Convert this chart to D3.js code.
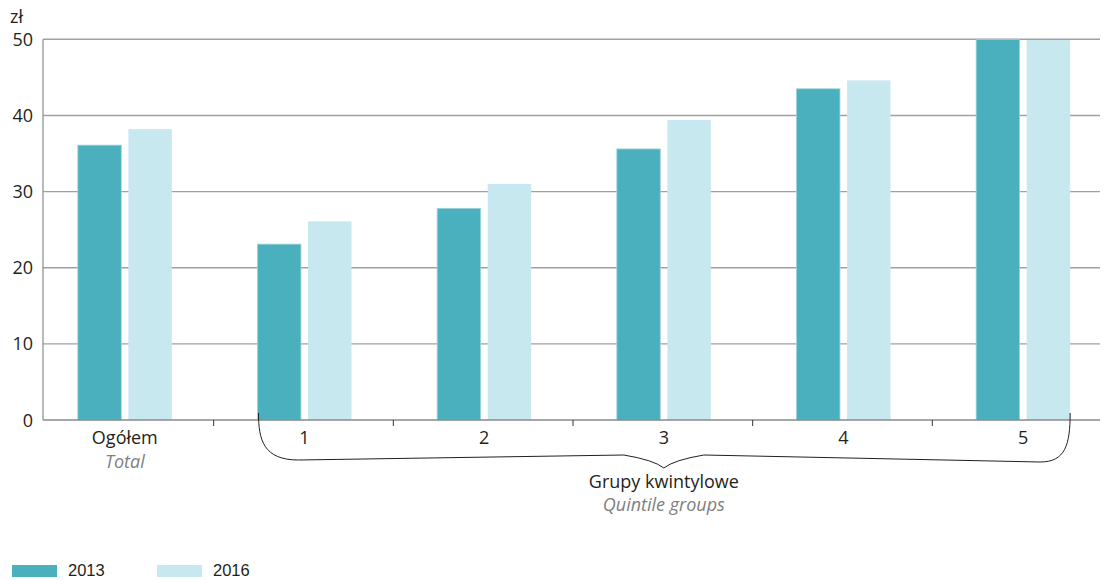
<!DOCTYPE html>
<html><head><meta charset="utf-8">
<script src="https://cdn.jsdelivr.net/npm/d3@7"></script>
<style>body{margin:0;background:#fff}svg{display:block}</style>
</head><body>
<svg id="c" width="1106" height="580"></svg>
<script>
const categories = ["Ogółem", "1", "2", "3", "4", "5"];
const series = ["2013", "2016"];
const values2013 = [36.1, 23.1, 27.8, 35.6, 43.5, 50.0];
const values2016 = [38.2, 26.1, 31.0, 39.4, 44.6, 49.9];
const yTicks = [0, 10, 20, 30, 40, 50];
const colors = ["#4bb0bd", "#c8e8ef"];

const svg = d3.select("#c");
const font = "'Open Sans', 'Noto Sans', sans-serif";
const x = d3.scaleBand().domain(categories).range([35, 1113]).paddingInner(0).paddingOuter(0);
const y = d3.scaleLinear().domain([0, 50]).range([420, 39.3]);
const xs = d3.scaleBand().domain(series).range([0, 94]).paddingInner(0.14);

// gridlines
svg.append("g").selectAll("line").data(yTicks.filter(d => d > 0)).join("line")
  .attr("x1", 43).attr("x2", 1100).attr("y1", d => y(d)).attr("y2", d => y(d))
  .attr("stroke", "#a0a0a0").attr("stroke-width", 1.4);

// bars
const data = categories.map((c, i) => ({c, v: [values2013[i], values2016[i]]}));
const g = svg.append("g").selectAll("g").data(data).join("g")
  .attr("transform", d => `translate(${x(d.c) + x.bandwidth()/2 - 47},0)`);
g.selectAll("rect").data(d => d.v.map((v, j) => ({s: series[j], v, j}))).join("rect")
  .attr("x", d => xs(d.s)).attr("width", xs.bandwidth())
  .attr("y", d => y(d.v)).attr("height", d => y(0) - y(d.v))
  .attr("fill", d => colors[d.j])
  .attr("stroke", d => d.j === 0 ? "#9fd3da" : "none").attr("stroke-width", 0.8);

// axes lines
svg.append("line").attr("x1", 43).attr("x2", 43).attr("y1", y(50)).attr("y2", y(0))
  .attr("stroke", "#8a8a8a").attr("stroke-width", 1.2);
svg.append("line").attr("x1", 43).attr("x2", 1100).attr("y1", y(0)).attr("y2", y(0))
  .attr("stroke", "#8a8a8a").attr("stroke-width", 1.4);

// x ticks between bands
svg.append("g").selectAll("line").data(categories.slice(1)).join("line")
  .attr("x1", d => x(d) - 1).attr("x2", d => x(d) - 1).attr("y1", y(0)).attr("y2", y(0) + 6)
  .attr("stroke", "#333").attr("stroke-width", 1);

// y labels
svg.append("g").selectAll("text").data(yTicks).join("text")
  .attr("x", 33).attr("y", d => y(d) + 6.5).attr("text-anchor", "end")
  .attr("font-family", font).attr("font-size", 18).attr("fill", "#231f20").text(d => d);
svg.append("text").attr("x", 10).attr("y", 23).attr("font-family", font).attr("font-size", 18)
  .attr("fill", "#231f20").text("zł");

// x labels
svg.append("g").selectAll("text").data(categories).join("text")
  .attr("x", d => x(d) + x.bandwidth()/2).attr("y", 444).attr("text-anchor", "middle")
  .attr("font-family", font).attr("font-size", 18).attr("fill", "#231f20").text(d => d);
svg.append("text").attr("x", x("Ogółem") + x.bandwidth()/2).attr("y", 468).attr("text-anchor", "middle")
  .attr("font-family", font).attr("font-style", "italic").attr("font-size", 18).attr("fill", "#808080").text("Total");

// brace
const bl = x("1") + x.bandwidth()/2 - 46, br = x("5") + x.bandwidth()/2 + 47;
const mid = (x("3") + x.bandwidth()/2);
const bp = d3.path();
bp.moveTo(bl, 413);
bp.bezierCurveTo(bl, 440, bl + 5, 460, bl + 40, 460);
bp.lineTo(mid - 40, 455);
bp.quadraticCurveTo(mid - 10, 460, mid, 468);
bp.quadraticCurveTo(mid + 10, 460, mid + 40, 455);
bp.lineTo(br - 30, 462);
bp.bezierCurveTo(br - 5, 462, br, 445, br, 413);
svg.append("path").attr("d", bp.toString()).attr("fill", "none").attr("stroke", "#231f20").attr("stroke-width", 1);

svg.append("text").attr("x", mid).attr("y", 488).attr("text-anchor", "middle")
  .attr("font-family", font).attr("font-size", 18).attr("fill", "#231f20").text("Grupy kwintylowe");
svg.append("text").attr("x", mid).attr("y", 511).attr("text-anchor", "middle")
  .attr("font-family", font).attr("font-style", "italic").attr("font-size", 18).attr("fill", "#808080").text("Quintile groups");

// legend
const lg = svg.append("g").selectAll("g").data(series).join("g")
  .attr("transform", (d, i) => `translate(${12 + i * 145},565)`);
lg.append("rect").attr("width", 45).attr("height", 12).attr("fill", (d, i) => colors[i]);
lg.append("text").attr("x", 56).attr("y", 11).attr("font-family", "'Liberation Sans', Arial, sans-serif")
  .attr("font-size", 16.5).attr("fill", "#231f20").text(d => d);
</script>
</body></html>
